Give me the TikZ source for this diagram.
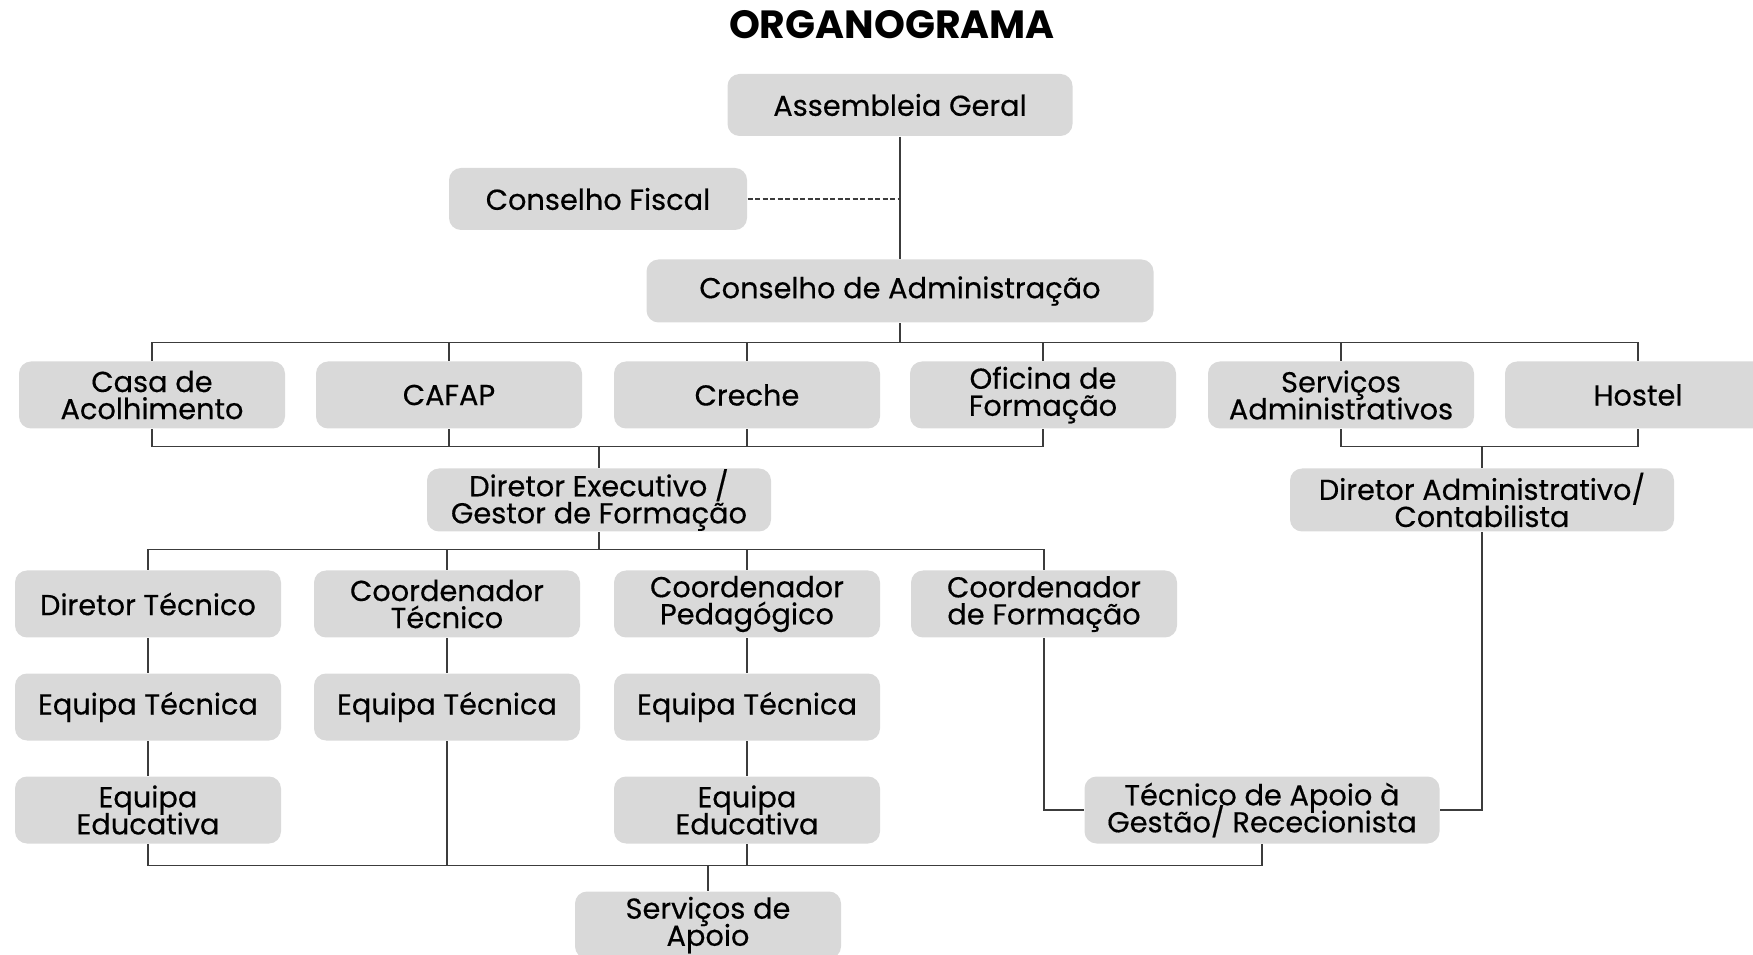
\documentclass[tikz,border=0pt]{standalone}
\usepackage{fontspec}
\setmainfont{Poppins}
\newfontfamily\boxfont{Poppins}[FakeBold=0.4]
\usepackage{tikz}
\usepackage{xcolor}
\usetikzlibrary{arrows.meta,calc,positioning}
\definecolor{boxgray}{RGB}{217,217,217}
\definecolor{linegray}{RGB}{60,60,60}
\newcommand{\boxtext}{\boxfont\fontsize{8.2}{7.7}\selectfont\setlength{\lineskiplimit}{-10pt}}

\begin{document}
\begin{tikzpicture}[x=0.1mm,y=-0.1mm,
  orgbox/.style={fill=boxgray,rounded corners=1.2mm,align=center,inner sep=0pt,
    minimum width=26.6mm,minimum height=6.7mm,font=\boxtext},
  link/.style={linegray,line width=0.13mm}]
  \clip (0,0) rectangle (1753,955);
  \node[font=\bfseries\fontsize{11.2}{13}\selectfont] (titulo) at (892,25) {ORGANOGRAMA};
  % topo
  \node[orgbox,minimum width=34.5mm,minimum height=6.2mm] (assembleia) at (900,105) {Assembleia Geral};
  \node[orgbox,minimum width=29.8mm,minimum height=6.2mm] (fiscal) at (598,199) {Conselho Fiscal};
  \node[orgbox,minimum width=50.7mm,minimum height=6.3mm] (admin) at (900,291) {Conselho de Administração};
  % valencias
  \node[orgbox] (casa) at (152,395) {Casa de\\Acolhimento};
  \node[orgbox] (cafap) at (449,395) {CAFAP};
  \node[orgbox] (creche) at (747,395) {Creche};
  \node[orgbox] (oficina) at (1043,395) {Oficina de\\Formação};
  \node[orgbox] (servadm) at (1341,395) {Serviços\\Administrativos};
  \node[orgbox] (hostel) at (1638,395) {Hostel};
  % direcao
  \node[orgbox,minimum width=34.4mm,minimum height=6.3mm] (direxec) at (599,500) {Diretor Executivo /\\Gestor de Formação};
  \node[orgbox,minimum width=38.4mm,minimum height=6.3mm] (diradm) at (1482,500) {Diretor Administrativo/\\Contabilista};
  % coordenacao
  \node[orgbox] (dirtec) at (148,604) {Diretor Técnico};
  \node[orgbox] (coordtec) at (447,604) {Coordenador\\Técnico};
  \node[orgbox] (coordped) at (747,604) {Coordenador\\Pedagógico};
  \node[orgbox] (coordform) at (1044,604) {Coordenador\\de Formação};
  % equipas
  \node[orgbox] (eqtecA) at (148,707) {Equipa Técnica};
  \node[orgbox] (eqtecB) at (447,707) {Equipa Técnica};
  \node[orgbox] (eqtecC) at (747,707) {Equipa Técnica};
  \node[orgbox] (eqeduA) at (148,810) {Equipa\\Educativa};
  \node[orgbox] (eqeduB) at (747,810) {Equipa\\Educativa};
  \node[orgbox,minimum width=35.5mm] (tecapoio) at (1262,810) {Técnico de Apoio à\\Gestão/ Rececionista};
  \node[orgbox] (apoio) at (708,925) {Serviços de\\Apoio};

  % ligacoes
  \draw[link] (assembleia) -- (admin);
  \draw[link,dash pattern=on 0.5mm off 0.25mm] (fiscal.east) -- (fiscal.east -| assembleia.south);
  \foreach \n in {casa,cafap,creche,oficina,servadm,hostel}
    \draw[link] (admin.south) -- ++(0,19) -| (\n.north);
  \foreach \n in {casa,cafap,creche,oficina}
    \draw[link] (direxec.north) -- ++(0,-21) -| (\n.south);
  \foreach \n in {servadm,hostel}
    \draw[link] (diradm.north) -- ++(0,-21) -| (\n.south);
  \foreach \n in {dirtec,coordtec,coordped,coordform}
    \draw[link] (direxec.south) -- ++(0,17) -| (\n.north);
  \draw[link] (dirtec) -- (eqtecA);
  \draw[link] (coordtec) -- (eqtecB);
  \draw[link] (coordped) -- (eqtecC);
  \draw[link] (eqtecA) -- (eqeduA);
  \draw[link] (eqtecC) -- (eqeduB);
  \draw[link] (coordform.south) |- (tecapoio.west);
  \draw[link] (diradm.south) |- (tecapoio.east);
  \foreach \n in {eqeduA,eqtecB,eqeduB,tecapoio}
    \draw[link] (apoio.north) -- ++(0,-25) -| (\n.south);
\end{tikzpicture}
\end{document}
